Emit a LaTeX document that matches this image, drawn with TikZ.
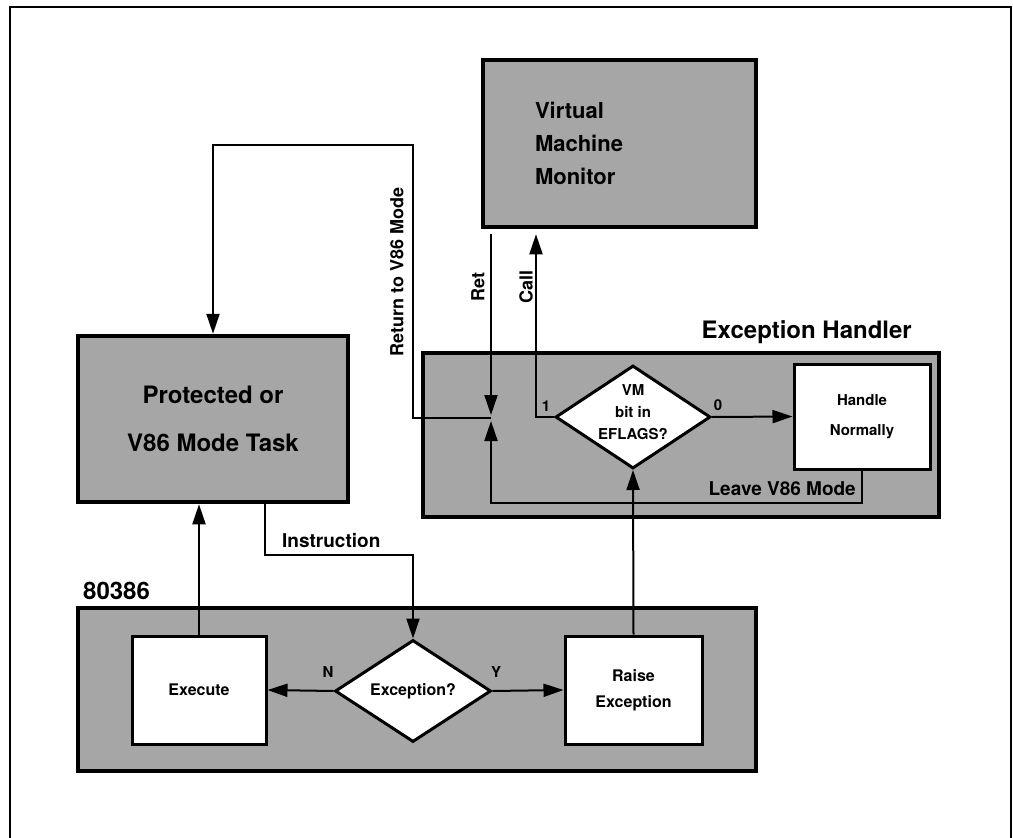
\documentclass[tikz,border=0pt]{standalone}
\usepackage{fontspec}
\setmainfont{TeX Gyre Heros}
\usetikzlibrary{arrows.meta,shapes.geometric}

\begin{document}
\begin{tikzpicture}[
    x=1pt, y=-1pt,
    font=\bfseries,
    panel/.style={draw, line width=4.5pt, fill=black!35, inner sep=0pt},
    stepbox/.style={draw, line width=3pt, fill=white, align=center, inner sep=0pt, font=\fontsize{16}{26}\selectfont\bfseries},
    test/.style={diamond, draw, line width=3pt, fill=white, inner sep=0pt},
    arr/.style={-{Triangle[length=20pt, width=13pt]}, line width=2pt},
    title/.style={inner sep=0pt, font=\fontsize{24}{24}\selectfont\bfseries},
    lbl/.style={inner sep=0pt, font=\fontsize{19}{19}\selectfont\bfseries},
    tag/.style={inner sep=0pt, font=\fontsize{15}{15}\selectfont\bfseries},
    side/.style={inner sep=0pt, rotate=90, font=\fontsize{18}{18}\selectfont\bfseries},
]
    \useasboundingbox (0,0) rectangle (1013,838);
    % Page frame (open at the bottom)
    \draw[line width=2.5pt] (10,838) -- (10,7) -- (1011,7) -- (1011,838);

    % Shaded panels
    \node[panel, minimum width=273, minimum height=167, text width=169, align=left,
          font=\fontsize{22}{33}\selectfont\bfseries] (vmm) at (619.5,143.5) {Virtual\\Machine\\Monitor};
    \node[panel, minimum width=270, minimum height=166, align=center,
          font=\fontsize{24}{48}\selectfont\bfseries] (ptask) at (213,419) {Protected or\\V86 Mode Task};
    \node[panel, minimum width=516, minimum height=164] (eh) at (681,435) {};
    \node[panel, minimum width=678, minimum height=163] (cpu) at (417,689.5) {};

    \node[title, anchor=base east] (ehname) at (912,338) {Exception Handler};
    \node[title, anchor=base west] (cpuname) at (83,599) {80386};

    % Exception handler contents
    \node[test, minimum width=155, minimum height=103,
          label={[align=center, yshift=5, font=\fontsize{15}{22}\selectfont\bfseries]center:VM\\bit in\\EFLAGS?}] (vmq) at (633,417) {};
    \node[stepbox, minimum width=136, minimum height=105, font=\fontsize{15}{30}\selectfont\bfseries] (handle) at (862,416.5) {Handle\\Normally};

    % 80386 contents
    \node[test, minimum width=156, minimum height=102, font=\fontsize{16}{16}\selectfont\bfseries] (qexc) at (413,691) {Exception?};
    \node[stepbox, minimum width=134, minimum height=108] (exec) at (199,690) {Execute};
    \node[stepbox, minimum width=137, minimum height=108] (raise) at (633.5,690) {Raise\\Exception};

    \coordinate (junc) at (491,418);
    \coordinate (rtop) at (413,145);

    % Flow
    \draw[arr] (exec) -- (exec |- ptask.south);
    \draw[arr] ([xshift=52]ptask.south) |- ([yshift=84]qexc.north) -- (qexc.north);
    \draw[arr] (qexc.west) -- (exec.east);
    \draw[arr] (qexc.east) -- (raise.west);
    \draw[arr] (raise.north) -- (vmq.south);
    \draw[arr] (vmq.east) -- (handle.west);
    \draw[arr] (vmq.west) -| ([xshift=-83.5, yshift=-5]vmm.south);
    \draw[arr, shorten >=3pt] ([xshift=-128.5, yshift=-5]vmm.south) -- (junc);
    \draw[arr] (junc) -| (rtop) -| (ptask.north);
    \draw[arr, shorten >=3pt] (handle.south) |- ([yshift=-85]junc) -- (junc);

    % Labels on the connectors
    \node[tag] (lbln) at (328,672) {N};
    \node[tag] (lbly) at (496,672) {Y};
    \node[tag] (lblone) at (546,406) {1};
    \node[tag] (lblzero) at (718,405) {0};
    \node[lbl, anchor=west] (instr) at (282,541) {Instruction};
    \node[lbl, anchor=east] (leave) at (856,489) {Leave V86 Mode};
    \node[side] (ret) at (478,287) {Ret};
    \node[side] (call) at (526,287) {Call};
    \node[side] (back) at (397,272) {Return to V86 Mode};
\end{tikzpicture}
\end{document}
